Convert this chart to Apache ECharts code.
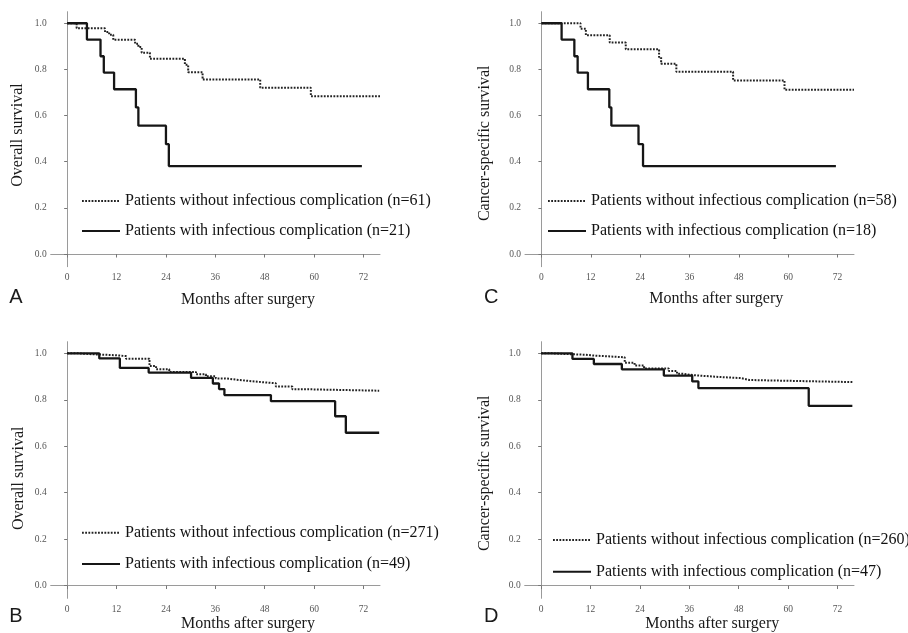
<!DOCTYPE html>
<html>
<head>
<meta charset="utf-8">
<script src="https://cdn.jsdelivr.net/npm/echarts@6/dist/echarts.min.js"></script>
<style>
html,body{margin:0;padding:0;background:#fff;}
#chart{width:908px;height:633px;}
</style>
</head>
<body>
<div id="chart"></div>
<script>
// ---- tick labels ----
var monthTicks = [0, 12, 24, 36, 48, 60, 72];
var survTicks = [0, 0.2, 0.4, 0.6, 0.8, 1.0];

// ---- Panel A: overall survival ----
var aWithoutName = 'Patients without infectious complication (n=61)';
var aWithoutT = [0, 2.3, 9.2, 10.2, 11.2, 16.5, 17.3, 18.1, 20.1, 28.6, 29.4, 32.9, 46.9, 59.2, 76];
var aWithoutS = [1, 0.978, 0.962, 0.950, 0.928, 0.911, 0.897, 0.872, 0.846, 0.820, 0.788, 0.756, 0.720, 0.684, 0.684];
var aWithName = 'Patients with infectious complication (n=21)';
var aWithT = [0, 4.8, 8.1, 8.9, 11.4, 16.7, 17.3, 24.0, 24.7, 71.6];
var aWithS = [1, 0.929, 0.857, 0.786, 0.714, 0.635, 0.556, 0.476, 0.381, 0.381];

// ---- Panel C: cancer-specific survival ----
var cWithoutName = 'Patients without infectious complication (n=58)';
var cWithoutT = [0, 9.5, 10.8, 16.6, 20.5, 28.6, 29.1, 32.8, 46.6, 59.1, 76];
var cWithoutS = [1, 0.976, 0.948, 0.916, 0.887, 0.853, 0.824, 0.790, 0.752, 0.712, 0.712];
var cWithName = 'Patients with infectious complication (n=18)';
var cWithT = [0, 4.9, 8.0, 8.8, 11.3, 16.5, 17.0, 23.6, 24.7, 71.6];
var cWithS = [1, 0.929, 0.857, 0.786, 0.714, 0.635, 0.556, 0.476, 0.381, 0.381];

// ---- Panel B: overall survival ----
var bWithoutName = 'Patients without infectious complication (n=271)';
var bWithoutT = [0, 2.7, 6, 11.5, 14.3, 20.0, 21.6, 24.8, 31.3, 33.7, 36.1, 38.5, 41.8, 46.6, 50.7, 54.7, 58.7, 75.8];
var bWithoutS = [1, 0.996, 0.992, 0.988, 0.977, 0.945, 0.931, 0.920, 0.910, 0.901, 0.892, 0.885, 0.877, 0.871, 0.857, 0.845, 0.839, 0.839];
var bWithName = 'Patients with infectious complication (n=49)';
var bWithT = [0, 7.8, 12.8, 19.8, 30.1, 35.4, 36.9, 38.2, 49.5, 65.1, 67.7, 75.8];
var bWithS = [1, 0.978, 0.937, 0.917, 0.894, 0.870, 0.846, 0.820, 0.794, 0.729, 0.658, 0.658];

// ---- Panel D: cancer-specific survival ----
var dWithoutName = 'Patients without infectious complication (n=260)';
var dWithoutT = [0, 2.5, 6, 10.6, 13, 20.3, 22.7, 25, 31, 33, 34.4, 36.9, 42.5, 48.6, 50.6, 59, 75.6];
var dWithoutS = [1, 0.997, 0.994, 0.990, 0.983, 0.959, 0.948, 0.935, 0.924, 0.912, 0.906, 0.899, 0.893, 0.885, 0.882, 0.876, 0.876];
var dWithName = 'Patients with infectious complication (n=47)';
var dWithT = [0, 7.6, 12.8, 19.6, 29.8, 36.7, 38.2, 65.0, 75.6];
var dWithS = [1, 0.976, 0.954, 0.931, 0.904, 0.879, 0.850, 0.774, 0.774];

// ---- titles ----
var xTitle = 'Months after surgery';
var yTitleOS = 'Overall survival';
var yTitleCSS = 'Cancer-specific survival';
var panelLetters = ['A', 'C', 'B', 'D'];

function pairs(t, s) { return t.map(function (v, i) { return [v, s[i]]; }); }

var serif = '"Liberation Serif", "Times New Roman", serif';
var axisGrey = '#9a9a9a';

var grids = [
  { left: 50.7, top: 11.7, width: 329.3, height: 255 },
  { left: 525, top: 11.7, width: 329, height: 255 },
  { left: 50.7, top: 341.7, width: 329.3, height: 256.6 },
  { left: 524.7, top: 341.7, width: 329.3, height: 256.6 }
];

function xAxisFor(i) {
  return {
    type: 'value', gridIndex: i, min: -4, max: 76,
    splitLine: { show: false },
    axisLine: { lineStyle: { color: axisGrey, width: 1 } },
    axisTick: { show: true, length: 3.5, lineStyle: { color: '#777' }, customValues: monthTicks },
    axisLabel: { customValues: monthTicks, margin: 6, fontFamily: serif, fontSize: 9.5, color: '#555' }
  };
}
function yAxisFor(i) {
  return {
    type: 'value', gridIndex: i, min: -0.055, max: 1.05,
    splitLine: { show: false },
    axisLine: { show: true, lineStyle: { color: axisGrey, width: 1 } },
    axisTick: { show: true, length: 3, lineStyle: { color: '#777' }, customValues: survTicks },
    axisLabel: { customValues: survTicks, margin: 4, fontFamily: serif, fontSize: 9.5, color: '#555',
      formatter: function (v) { return v.toFixed(1); } }
  };
}

var dotted = { color: '#222', width: 2, type: [1.8, 1.4] };
var solid = { color: '#161616', width: 2.3, type: 'solid' };

function km(name, t, s, idx, style) {
  return {
    name: name, type: 'line', step: 'end', xAxisIndex: idx, yAxisIndex: idx,
    data: pairs(t, s), symbol: 'none', showSymbol: false, animation: false,
    lineStyle: style, itemStyle: { color: style.color }, silent: true
  };
}

function legendFor(names, left, top, gap) {
  return {
    orient: 'vertical', left: left, top: top, padding: 0,
    itemWidth: 38, itemHeight: 14, itemGap: gap,
    data: names, selectedMode: false,
    itemStyle: { color: 'rgba(0,0,0,0)', borderColor: 'rgba(0,0,0,0)', borderWidth: 0, opacity: 0 },
    textStyle: { fontFamily: serif, fontSize: 16, color: '#111', lineHeight: 20 }
  };
}

function txt(text, x, y, font, rot) {
  return {
    type: 'text', x: x, y: y, rotation: rot || 0,
    style: { text: text, font: font, fill: '#1a1a1a', align: 'center', verticalAlign: 'middle' }
  };
}

var titleFont = '16px ' + serif;
var letterFont = '20px "Liberation Sans", Arial, sans-serif';

var option = {
  backgroundColor: '#fff',
  animation: false,
  grid: grids,
  xAxis: [xAxisFor(0), xAxisFor(1), xAxisFor(2), xAxisFor(3)],
  yAxis: [yAxisFor(0), yAxisFor(1), yAxisFor(2), yAxisFor(3)],
  legend: [
    legendFor([aWithoutName, aWithName], 81, 191, 10),
    legendFor([cWithoutName, cWithName], 547, 191, 10),
    legendFor([bWithoutName, bWithName], 81, 522.7, 11.3),
    legendFor([dWithoutName, dWithName], 552, 530, 11.7)
  ],
  series: [
    km(aWithoutName, aWithoutT, aWithoutS, 0, dotted),
    km(aWithName, aWithT, aWithS, 0, solid),
    km(cWithoutName, cWithoutT, cWithoutS, 1, dotted),
    km(cWithName, cWithT, cWithS, 1, solid),
    km(bWithoutName, bWithoutT, bWithoutS, 2, dotted),
    km(bWithName, bWithT, bWithS, 2, solid),
    km(dWithoutName, dWithoutT, dWithoutS, 3, dotted),
    km(dWithName, dWithT, dWithS, 3, solid)
  ],
  graphic: [
    txt(xTitle, 248, 300, titleFont),
    txt(xTitle, 716.3, 299, titleFont),
    txt(xTitle, 248, 623.3, titleFont),
    txt(xTitle, 712.3, 623.3, titleFont),
    txt(yTitleOS, 18, 135, titleFont, Math.PI / 2),
    txt(yTitleCSS, 484.7, 143.3, titleFont, Math.PI / 2),
    txt(yTitleOS, 18.3, 478.3, titleFont, Math.PI / 2),
    txt(yTitleCSS, 484.7, 473.3, titleFont, Math.PI / 2),
    txt(panelLetters[0], 16, 297.7, letterFont),
    txt(panelLetters[1], 491.3, 297.7, letterFont),
    txt(panelLetters[2], 16, 616.7, letterFont),
    txt(panelLetters[3], 491.3, 616.7, letterFont)
  ]
};

var chart = echarts.init(document.getElementById('chart'), null, { renderer: 'canvas' });
chart.setOption(option);
</script>
</body>
</html>
